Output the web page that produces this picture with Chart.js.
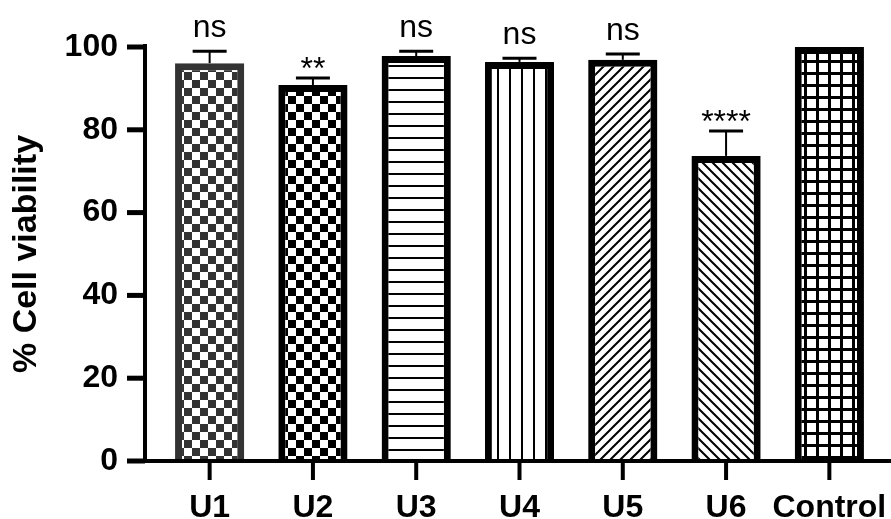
<!DOCTYPE html>
<html>
<head>
<meta charset="utf-8">
<script src="https://cdn.jsdelivr.net/npm/chart.js@4.4.1/dist/chart.umd.min.js"></script>
<style>
  html, body { margin: 0; padding: 0; background: #fff; }
  #wrap { width: 891px; height: 519px; position: relative; }
</style>
</head>
<body>
<div id="wrap"><canvas id="grafico"></canvas></div>
<script>
const categorias = ['U1', 'U2', 'U3', 'U4', 'U5', 'U6', 'Control'];
const viabilidad = [96.1, 90.8, 97.8, 96.4, 96.9, 73.7, 100];
const errorSup = [2.9, 1.7, 1.2, 0.9, 1.4, 6.0, 0];
const significancia = ['ns', '**', 'ns', 'ns', 'ns', '****', ''];
const ticksY = [0, 20, 40, 60, 80, 100];

// pattern tiles for the bar fills
function tile(w, h, draw) {
  const c = document.createElement('canvas');
  c.width = w; c.height = h;
  const g = c.getContext('2d');
  g.fillStyle = '#fff';
  g.fillRect(0, 0, w, h);
  draw(g, w, h);
  return g.createPattern(c, 'repeat');
}
const ajedrez = (col, s) => tile(s * 2, s * 2, (g) => {
  g.fillStyle = col;
  g.fillRect(0, 0, s, s);
  g.fillRect(s, s, s, s);
});
const horiz = tile(12, 12, (g) => { g.fillStyle = '#000'; g.fillRect(0, 5, 12, 2); });
const vert = tile(12, 12, (g) => { g.fillStyle = '#000'; g.fillRect(5, 0, 2, 12); });
const diag = (dir) => tile(10, 10, (g, w, h) => {
  g.strokeStyle = '#000'; g.lineWidth = 2;
  g.beginPath();
  if (dir > 0) {
    g.moveTo(-2, 12); g.lineTo(12, -2);
    g.moveTo(-2, 2); g.lineTo(2, -2);
    g.moveTo(8, 12); g.lineTo(12, 8);
  } else {
    g.moveTo(-2, -2); g.lineTo(12, 12);
    g.moveTo(8, -2); g.lineTo(12, 2);
    g.moveTo(-2, 8); g.lineTo(2, 12);
  }
  g.stroke();
});
const rejilla = tile(12, 12, (g) => {
  g.fillStyle = '#000';
  g.fillRect(0, 0, 3, 12);
  g.fillRect(0, 0, 12, 3);
});

const rellenos = [ajedrez('#333', 8), ajedrez('#000', 8), horiz, vert, diag(1), diag(-1), rejilla];
const bordes = ['#333', '#000', '#000', '#000', '#000', '#000', '#000'];

const ejes = {
  id: 'ejes',
  afterDatasetsDraw(chart) {
    const { ctx, scales: { x, y } } = chart;
    const ax = 145, y0 = y.getPixelForValue(0);
    ctx.save();
    ctx.fillStyle = '#000';
    // y axis + ticks
    ctx.fillRect(ax - 2, y.getPixelForValue(100) - 3, 4, y0 - y.getPixelForValue(100) + 5);
    ticksY.forEach(v => ctx.fillRect(ax - 18, y.getPixelForValue(v) - 2.5, 18, 5));
    // x axis + ticks
    ctx.fillRect(ax - 2, y0 - 2, chart.width - ax + 2, 4);
    categorias.forEach((c, i) => ctx.fillRect(x.getPixelForValue(i) - 2, y0 + 2, 4, 17));

    // error bars (upper only) and significance marks
    ctx.strokeStyle = '#000';
    categorias.forEach((c, i) => {
      const cx = x.getPixelForValue(i);
      const yb = y.getPixelForValue(viabilidad[i]);
      const yt = y.getPixelForValue(viabilidad[i] + errorSup[i]);
      if (errorSup[i] > 0) {
        ctx.lineWidth = 2;
        ctx.beginPath(); ctx.moveTo(cx, yb); ctx.lineTo(cx, yt); ctx.stroke();
        ctx.lineWidth = 3;
        ctx.beginPath(); ctx.moveTo(cx - 17, yt); ctx.lineTo(cx + 17, yt); ctx.stroke();
      }
      if (significancia[i]) {
        const s = significancia[i];
        ctx.font = '32px "Liberation Sans", Arial, sans-serif';
        ctx.textAlign = 'center';
        ctx.textBaseline = 'alphabetic';
        ctx.fillText(s, cx, s === 'ns' ? yt - 14 : yt + 1);
      }
    });
    ctx.restore();
  }
};

const fuenteEje = { family: '"Liberation Sans", Arial', size: 32, weight: 'bold' };

new Chart(document.getElementById('grafico'), {
  type: 'bar',
  data: {
    labels: categorias,
    datasets: [{
      data: viabilidad,
      backgroundColor: rellenos,
      borderColor: bordes,
      borderWidth: 7,
      categoryPercentage: 1,
      barPercentage: 0.67
    }]
  },
  options: {
    responsive: true,
    maintainAspectRatio: false,
    animation: false,
    layout: { padding: { top: 47, right: 10, bottom: 0, left: 0 } },
    plugins: { legend: { display: false }, tooltip: { enabled: false } },
    scales: {
      x: {
        grid: { display: false, drawTicks: false },
        border: { display: false },
        ticks: { color: '#000', padding: 28, maxRotation: 0, minRotation: 0, autoSkip: false, font: fuenteEje },
        afterFit: (s) => { s.height = 58; s.paddingLeft = 0; s.paddingRight = 0; }
      },
      y: {
        min: 0, max: 100,
        afterBuildTicks: (s) => { s.ticks = ticksY.map(v => ({ value: v })); },
        grid: { display: false, drawTicks: false },
        border: { display: false },
        ticks: { color: '#000', padding: 40, font: fuenteEje },
        title: {
          display: true, text: '% Cell viability', color: '#000',
          font: { family: '"Liberation Sans", Arial', size: 34, weight: 'bold' },
          padding: { top: 6, bottom: 0 }
        },
        afterFit: (s) => { s.width = 158; s.paddingTop = 0; s.paddingBottom = 0; }
      }
    }
  },
  plugins: [ejes]
});
</script>
</body>
</html>
